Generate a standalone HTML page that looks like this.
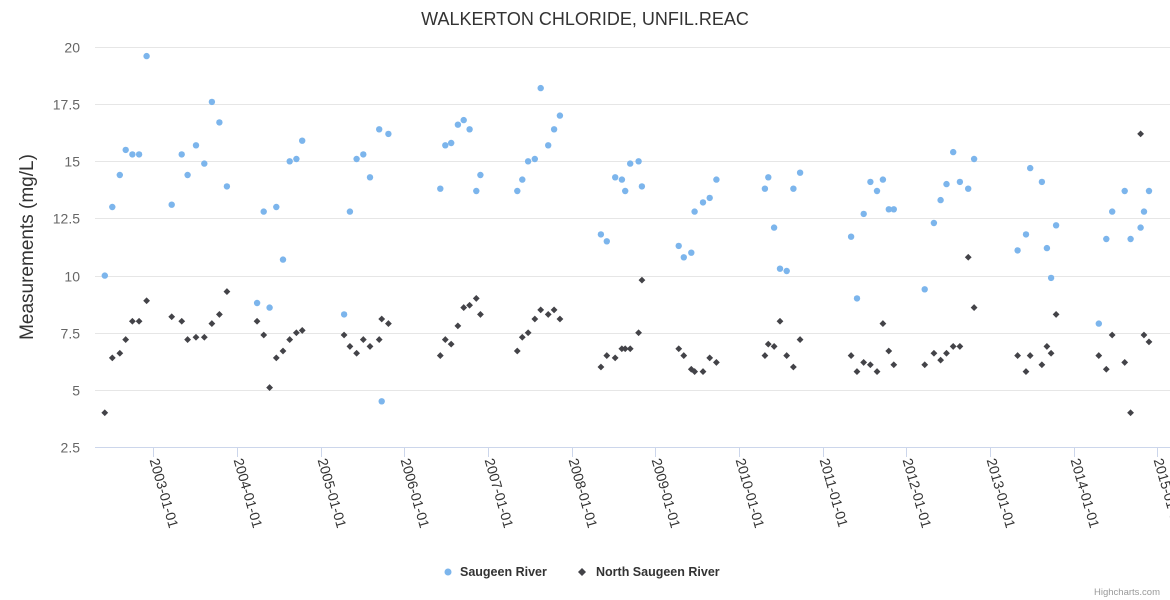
<!DOCTYPE html>
<html><head><meta charset="utf-8"><style>
body{margin:0;background:#fff;font-family:"Liberation Sans","DejaVu Sans",sans-serif}
svg{display:block}
</style></head><body>
<svg id="chart" width="1170" height="600" xmlns="http://www.w3.org/2000/svg">
<text x="585" y="25" text-anchor="middle" font-size="18" fill="#333">WALKERTON CHLORIDE, UNFIL.REAC</text>
<text transform="translate(33,247) rotate(-90)" text-anchor="middle" font-size="19" fill="#333">Measurements (mg/L)</text>
<g id="grid"></g><g id="xaxis"></g><g id="pts"></g>
<g>
<g><circle cx="448" cy="572" r="3.5" fill="#7cb5ec"/><text x="460" y="576" font-size="12.5" font-weight="bold" fill="#333">Saugeen River</text></g>
<g><path d="M582 568 L586 572 L582 576 L578 572Z" fill="#434348"/><text x="596" y="576" font-size="12.5" font-weight="bold" fill="#333">North Saugeen River</text></g>
</g>
<text x="1160" y="595" text-anchor="end" font-size="9.5" fill="#999">Highcharts.com</text>
</svg>
<script>
const yTicks=[2.5,5,7.5,10,12.5,15,17.5,20];
const xTickYears=[2003,2004,2005,2006,2007,2008,2009,2010,2011,2012,2013,2014,2015];
const saugeenX=[2002.42,2002.51,2002.60,2002.67,2002.75,2002.83,2002.92,2003.22,2003.34,2003.41,2003.51,2003.61,2003.70,2003.79,2003.88,2004.24,2004.32,2004.39,2004.47,2004.55,2004.63,2004.71,2004.78,2005.28,2005.35,2005.43,2005.51,2005.59,2005.70,2005.73,2005.81,2006.43,2006.49,2006.56,2006.64,2006.71,2006.78,2006.86,2006.91,2007.35,2007.41,2007.48,2007.56,2007.63,2007.72,2007.79,2007.86,2008.35,2008.42,2008.52,2008.60,2008.64,2008.70,2008.80,2008.84,2009.28,2009.34,2009.43,2009.47,2009.57,2009.65,2009.73,2010.31,2010.35,2010.42,2010.49,2010.57,2010.65,2010.73,2011.34,2011.41,2011.49,2011.57,2011.65,2011.72,2011.79,2011.85,2012.22,2012.33,2012.41,2012.48,2012.56,2012.64,2012.74,2012.81,2013.33,2013.43,2013.48,2013.62,2013.68,2013.73,2013.79,2014.30,2014.39,2014.46,2014.61,2014.68,2014.80,2014.84,2014.90];
const saugeenY=[10.0,13.0,14.4,15.5,15.3,15.3,19.6,13.1,15.3,14.4,15.7,14.9,17.6,16.7,13.9,8.8,12.8,8.6,13.0,10.7,15.0,15.1,15.9,8.3,12.8,15.1,15.3,14.3,16.4,4.5,16.2,13.8,15.7,15.8,16.6,16.8,16.4,13.7,14.4,13.7,14.2,15.0,15.1,18.2,15.7,16.4,17.0,11.8,11.5,14.3,14.2,13.7,14.9,15.0,13.9,11.3,10.8,11.0,12.8,13.2,13.4,14.2,13.8,14.3,12.1,10.3,10.2,13.8,14.5,11.7,9.0,12.7,14.1,13.7,14.2,12.9,12.9,9.4,12.3,13.3,14.0,15.4,14.1,13.8,15.1,11.1,11.8,14.7,14.1,11.2,9.9,12.2,7.9,11.6,12.8,13.7,11.6,12.1,12.8,13.7];
const northX=[2002.42,2002.51,2002.60,2002.67,2002.75,2002.83,2002.92,2003.22,2003.34,2003.41,2003.51,2003.61,2003.70,2003.79,2003.88,2004.24,2004.32,2004.39,2004.47,2004.55,2004.63,2004.71,2004.78,2005.28,2005.35,2005.43,2005.51,2005.59,2005.70,2005.73,2005.81,2006.43,2006.49,2006.56,2006.64,2006.71,2006.78,2006.86,2006.91,2007.35,2007.41,2007.48,2007.56,2007.63,2007.72,2007.79,2007.86,2008.35,2008.42,2008.52,2008.60,2008.64,2008.70,2008.80,2008.84,2009.28,2009.34,2009.43,2009.47,2009.57,2009.65,2009.73,2010.31,2010.35,2010.42,2010.49,2010.57,2010.65,2010.73,2011.34,2011.41,2011.49,2011.57,2011.65,2011.72,2011.79,2011.85,2012.22,2012.33,2012.41,2012.48,2012.56,2012.64,2012.74,2012.81,2013.33,2013.43,2013.48,2013.62,2013.68,2013.73,2013.79,2014.30,2014.39,2014.46,2014.61,2014.68,2014.80,2014.84,2014.90];
const northY=[4.0,6.4,6.6,7.2,8.0,8.0,8.9,8.2,8.0,7.2,7.3,7.3,7.9,8.3,9.3,8.0,7.4,5.1,6.4,6.7,7.2,7.5,7.6,7.4,6.9,6.6,7.2,6.9,7.2,8.1,7.9,6.5,7.2,7.0,7.8,8.6,8.7,9.0,8.3,6.7,7.3,7.5,8.1,8.5,8.3,8.5,8.1,6.0,6.5,6.4,6.8,6.8,6.8,7.5,9.8,6.8,6.5,5.9,5.8,5.8,6.4,6.2,6.5,7.0,6.9,8.0,6.5,6.0,7.2,6.5,5.8,6.2,6.1,5.8,7.9,6.7,6.1,6.1,6.6,6.3,6.6,6.9,6.9,10.8,8.6,6.5,5.8,6.5,6.1,6.9,6.6,8.3,6.5,5.9,7.4,6.2,4.0,16.2,7.4,7.1];

const NS='http://www.w3.org/2000/svg';
const X0=95,X1=1170;
const xs=yr=>153.3+(yr-2003)*83.67;
const ys=v=>447-(v-2.5)*(400/17.5);
function mk(t,a,p){const e=document.createElementNS(NS,t);for(const k in a)e.setAttribute(k,a[k]);p.appendChild(e);return e;}
const grid=document.getElementById('grid');
yTicks.forEach(v=>{
  const y=Math.round(ys(v))+0.5;
  if(v>2.5){const l=mk('line',{x1:X0,x2:X1,y1:y,y2:y,stroke:'#e6e6e6'},grid);
  
  }
  const t=mk('text',{x:80,y:y+5,'text-anchor':'end','font-size':'14',fill:'#666'},grid);
  
  
  t.textContent=String(v);
});
const xa=document.getElementById('xaxis');
const al=mk('line',{x1:X0,x2:X1,y1:447.5,y2:447.5,stroke:'#ccd6eb'},xa);


xTickYears.forEach(yr=>{
  const x=Math.round(xs(yr))+0.5;
  const tk=mk('line',{x1:x,x2:x,y1:447,y2:457,stroke:'#ccd6eb'},xa);
  
  
  const t=mk('text',{transform:`translate(${x-4},${460}) rotate(74)`,'font-size':'14',fill:'#333'},xa);
  
  
  t.textContent=yr+'-01-01';
});
const pts=document.getElementById('pts');
const g1=mk('g',{},pts);


saugeenX.forEach((yr,i)=>{
  const c=mk('circle',{cx:xs(yr).toFixed(1),cy:ys(saugeenY[i]).toFixed(1),r:3.2,fill:'#7cb5ec'},g1);
  
  
});
const g2=mk('g',{},pts);


northX.forEach((yr,i)=>{
  const x=xs(yr),y=ys(northY[i]);
  const p=mk('path',{d:`M${x} ${y-3.4}L${x+3.4} ${y}L${x} ${y+3.4}L${x-3.4} ${y}Z`,fill:'#434348'},g2);
  
  
});
</script>
</body></html>
